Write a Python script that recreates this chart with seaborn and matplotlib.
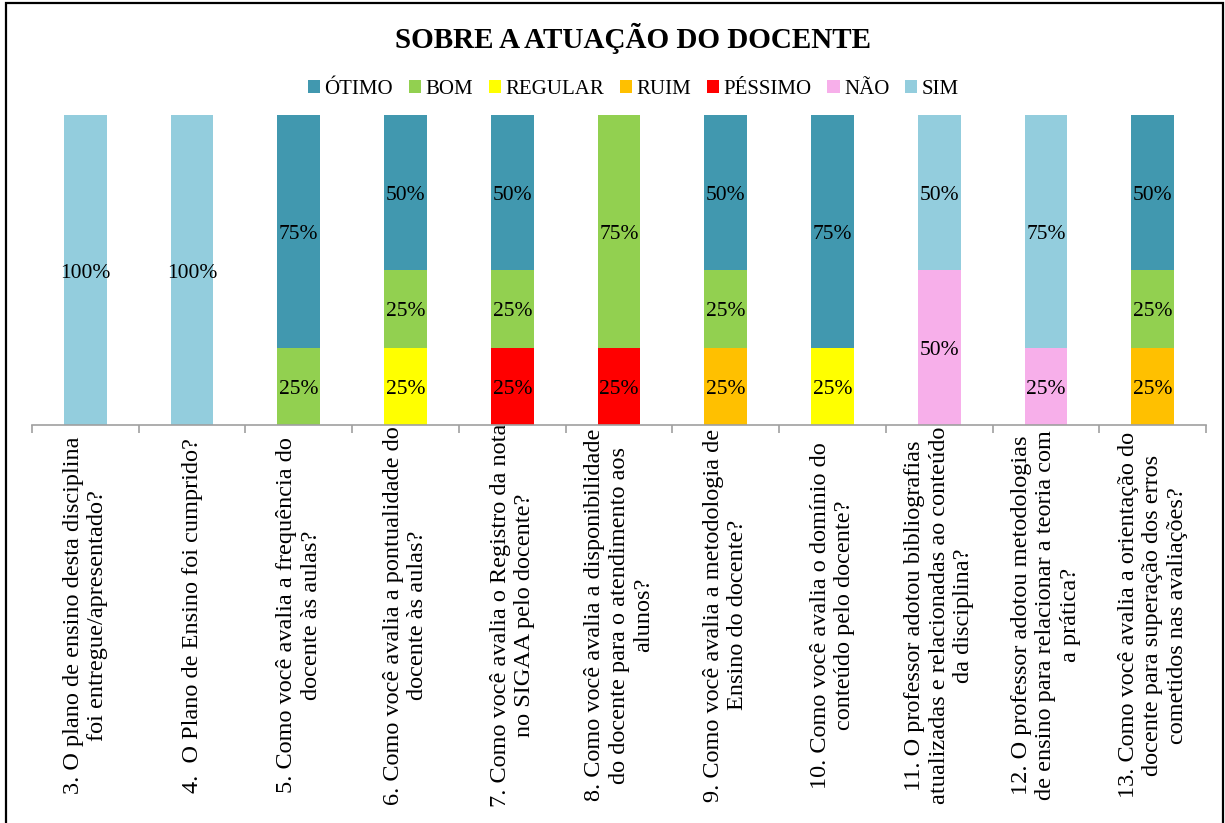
import matplotlib
matplotlib.use('Agg')
import matplotlib.pyplot as plt
from matplotlib.patches import Patch, Rectangle
import numpy as np
import seaborn as sns

sns.set_theme(style='white')
plt.rcParams['font.family'] = ['Liberation Serif', 'DejaVu Serif']
plt.rcParams['text.color'] = 'black'
plt.rcParams['xtick.color'] = 'black'

# perguntas (eixo x)
categories = [
    '3. O plano de ensino desta disciplina\nfoi entregue/apresentado?',
    '4.  O Plano de Ensino foi cumprido?',
    '5. Como você avalia a frequência do\ndocente às aulas?',
    '6. Como você avalia a pontualidade do\ndocente às aulas?',
    '7. Como você avalia o Registro da nota\nno SIGAA pelo docente?',
    '8. Como você avalia a disponibilidade\ndo docente para o atendimento aos\nalunos?',
    '9. Como você avalia a metodologia de\nEnsino do docente?',
    '10. Como você avalia o domínio do\nconteúdo pelo docente?',
    '11. O professor adotou bibliografias\natualizadas e relacionadas ao conteúdo\nda disciplina?',
    '12. O professor adotou metodologias\nde ensino para relacionar a teoria com\na prática?',
    '13. Como você avalia a orientação do\ndocente para superação dos erros\ncometidos nas avaliações?',
]

# percentuais por resposta
otimo = [0, 0, 75, 50, 50, 0, 50, 75, 0, 0, 50]
bom = [0, 0, 25, 25, 25, 75, 25, 0, 0, 0, 25]
regular = [0, 0, 0, 25, 0, 0, 0, 25, 0, 0, 0]
ruim = [0, 0, 0, 0, 0, 0, 25, 0, 0, 0, 25]
pessimo = [0, 0, 0, 0, 25, 25, 0, 0, 0, 0, 0]
nao = [0, 0, 0, 0, 0, 0, 0, 0, 50, 25, 0]
sim = [100, 100, 0, 0, 0, 0, 0, 0, 50, 75, 0]

legend_order = ['ÓTIMO', 'BOM', 'REGULAR', 'RUIM', 'PÉSSIMO', 'NÃO', 'SIM']
colors = {'ÓTIMO': '#4198AF', 'BOM': '#92D050', 'REGULAR': '#FFFF00',
          'RUIM': '#FFC000', 'PÉSSIMO': '#FF0000', 'NÃO': '#F7AFEA',
          'SIM': '#93CDDD'}
# ordem de empilhamento (de baixo para cima)
stack = [('PÉSSIMO', pessimo), ('RUIM', ruim), ('REGULAR', regular),
         ('BOM', bom), ('ÓTIMO', otimo), ('NÃO', nao), ('SIM', sim)]

fig = plt.figure(figsize=(12.25, 8.23), dpi=100)
ax = fig.add_axes([32 / 1225, 1 - 425 / 823, (1206 - 32) / 1225, (425 - 115) / 823])

bottom = np.zeros(len(categories))
for name, vals in stack:
    vals = np.array(vals, dtype=float)
    sns.barplot(x=categories, y=vals, bottom=bottom, color=colors[name],
                saturation=1, width=0.4, linewidth=0, ax=ax)
    for i, v in enumerate(vals):
        if v > 0:
            ax.text(i, bottom[i] + v / 2 - 1, f'{int(v)}%', ha='center', va='center',
                    fontsize=15.5, color='black')
    bottom += vals

ax.set_ylim(0, 100)
ax.set_xlim(-0.5, len(categories) - 0.5)
ax.set_yticks([])
ax.set_ylabel('')
for s in ['left', 'top', 'right']:
    ax.spines[s].set_visible(False)
ax.spines['bottom'].set_color('#A0A0A0')
ax.spines['bottom'].set_linewidth(1.2)

ax.set_xticks(range(len(categories)))
ax.set_xticklabels(categories, rotation=90, ha='center', va='center',
                   multialignment='center', fontsize=17.5, linespacing=1.22)
ax.tick_params(axis='x', which='major', length=0, pad=137)
ax.set_xticks(np.arange(-0.5, len(categories), 1), minor=True)
ax.tick_params(axis='x', which='minor', bottom=True, length=6, width=1.2,
               color='#A0A0A0', direction='out')

handles = [Patch(facecolor=colors[n], edgecolor='none') for n in legend_order]
fig.legend(handles, legend_order, loc='center', bbox_to_anchor=(0.517, 1 - 89 / 823),
           ncol=7, frameon=False, fontsize=15, handlelength=0.6, handleheight=0.6,
           handletextpad=0.2, columnspacing=0.75)

fig.text(0.517, 1 - 38 / 823, 'SOBRE A ATUAÇÃO DO DOCENTE', ha='center', va='center',
         fontsize=21, fontweight='bold')

fig.add_artist(Rectangle((6 / 1225, -0.05), (1223 - 6) / 1225, 1.05 + 1 - 3 / 823 - 1,
                         transform=fig.transFigure, fill=False, edgecolor='black',
                         linewidth=1.6))

fig.savefig('out.png', dpi=100)
